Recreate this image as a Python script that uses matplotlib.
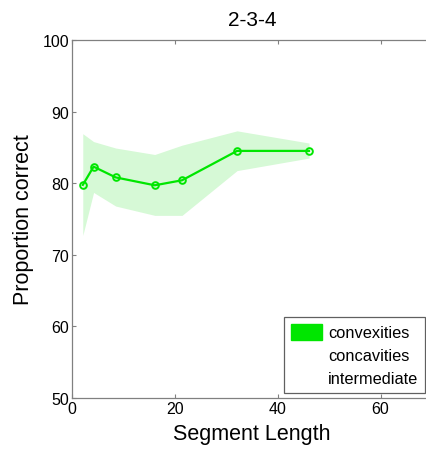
import numpy as np
import matplotlib
matplotlib.use("Agg")
from matplotlib import pyplot as plt
from matplotlib.patches import Patch

plt.rcParams['font.family'] = ['Liberation Sans', 'DejaVu Sans']

# segment length vs proportion correct (convexities)
seg_len = [2.1, 4.2, 8.5, 16.1, 21.4, 32.1, 46.1]
prop_correct = [79.75, 82.3, 80.8, 79.7, 80.4, 84.5, 84.5]
band_upper = [86.9, 85.8, 84.9, 84.0, 85.3, 87.3, 85.6]
band_lower = [72.7, 78.7, 76.8, 75.5, 75.5, 81.75, 83.5]

legend_labels = ['convexities', 'concavities', 'intermediate']
x_ticks = [0, 20, 40, 60]
y_ticks = [50, 60, 70, 80, 90, 100]

green = '#00e600'
gray = '#808080'

fig = plt.figure(figsize=(4.26, 4.60), dpi=100)
ax = fig.add_axes([0.169, 0.1326, 0.845, 0.7785])

ax.fill_between(seg_len, band_lower, band_upper, color='#d6f9d6', lw=0)
ax.plot(seg_len, prop_correct, color=green, lw=1.6, marker='o', ms=4.8,
        mfc='none', mec=green, mew=1.4)

ax.set_xlim(0, 70)
ax.set_ylim(50, 100)
ax.set_xticks(x_ticks)
ax.set_yticks(y_ticks)
ax.tick_params(direction='in', length=3, color=gray, labelsize=11.5,
               top=True, right=True, pad=2)
for sp in ax.spines.values():
    sp.set_color(gray)
    sp.set_linewidth(0.9)

ax.set_title('2-3-4', fontsize=15, pad=11)
ax.set_xlabel('Segment Length', fontsize=15.5, labelpad=5)
ax.set_ylabel('Proportion correct', fontsize=15.5, labelpad=6)

handles = [Patch(facecolor=green, edgecolor=green),
           Patch(facecolor='white', edgecolor='white'),
           Patch(facecolor='white', edgecolor='white')]
leg = ax.legend(handles, legend_labels, loc='lower right', fontsize=11.8,
                fancybox=False, framealpha=1, edgecolor='#606060',
                handlelength=1.95, handleheight=1.1, handletextpad=0.35,
                labelspacing=0.4, borderpad=0.4, borderaxespad=0,
                bbox_to_anchor=(425 / 426, 1 - 394 / 460),
                bbox_transform=fig.transFigure)
leg.get_frame().set_linewidth(0.9)

fig.savefig('out.png', dpi=100)
